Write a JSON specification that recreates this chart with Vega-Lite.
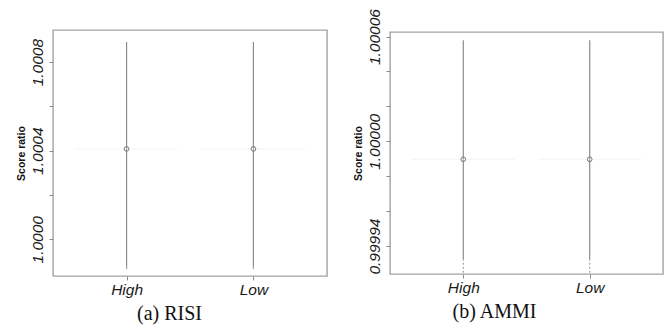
{
  "$schema": "https://vega.github.io/schema/vega-lite/v6.json",
  "background": "white",
  "padding": {"left": 15, "top": 7, "right": 3, "bottom": 2},
  "bounds": "flush",
  "center": true,
  "spacing": 63,
  "config": {
    "view": {"stroke": "#a3a3a3", "strokeWidth": 1.4},
    "axis": {
      "domain": false,
      "grid": false,
      "tickColor": "#8c8c8c",
      "tickSize": 4,
      "tickWidth": 1,
      "labelFont": "Liberation Sans",
      "labelFontStyle": "italic",
      "labelFontSize": 15.5,
      "labelColor": "#1a1a1a",
      "labelOverlap": false,
      "titleColor": "#111111"
    },
    "axisX": {
      "labelAngle": 0,
      "labelPadding": 2,
      "titleFont": "Liberation Serif",
      "titleFontSize": 20,
      "titleFontWeight": "normal",
      "titleAlign": "center",
      "titlePadding": 6
    },
    "axisY": {
      "labelAngle": -90,
      "labelAlign": "center",
      "labelBaseline": "bottom",
      "labelPadding": 4,
      "titleFont": "Liberation Sans",
      "titleFontSize": 10.5,
      "titleFontWeight": "bold",
      "titlePadding": 4
    }
  },
  "hconcat": [
    {
      "width": 274,
      "height": 246,
      "data": {"values": [
        {"g": "High", "top": 1.000891, "lo": 0.999874, "end": 0.999865, "med": 1.000408},
        {"g": "Low", "top": 1.000891, "lo": 0.999874, "end": 0.999865, "med": 1.000408}
      ]},
      "encoding": {
        "x": {"field": "g", "type": "nominal", "sort": ["High", "Low"],
              "scale": {"type": "point", "padding": 0.58},
              "axis": {"title": "(a) RISI", "titleX": 116}}
      },
      "layer": [
        {
          "mark": {"type": "rule", "color": "#8c8c8c", "strokeWidth": 1.2},
          "encoding": {
            "y": {"field": "lo", "type": "quantitative",
                  "scale": {"domain": [0.999834, 1.000945], "nice": false, "zero": false},
                  "axis": {"title": "Score ratio",
                           "values": [1.0, 1.0002, 1.0004, 1.0006, 1.0008],
                           "labelExpr": "(abs(datum.value - 1.0002) < 1e-9 || abs(datum.value - 1.0006) < 1e-9) ? '' : format(datum.value, '.4f')"}},
            "y2": {"field": "top"}
          }
        },
        {
          "mark": {"type": "rule", "color": "#a0a0a0", "strokeWidth": 1.2, "strokeDash": [2, 2]},
          "encoding": {
            "y": {"field": "end", "type": "quantitative"},
            "y2": {"field": "lo"}
          }
        },
        {
          "mark": {"type": "tick", "color": "#eeeeee", "size": 103, "thickness": 1},
          "encoding": {"y": {"field": "med", "type": "quantitative"}}
        },
        {
          "mark": {"type": "point", "shape": "circle", "filled": false, "size": 22, "color": "#7a7a7a", "strokeWidth": 1, "opacity": 1},
          "encoding": {"y": {"field": "med", "type": "quantitative"}}
        }
      ]
    },
    {
      "width": 273,
      "height": 242,
      "data": {"values": [
        {"g": "High", "top": 1.0000579, "lo": 0.9999324, "end": 0.9999247, "med": 0.9999897},
        {"g": "Low", "top": 1.0000579, "lo": 0.9999324, "end": 0.9999247, "med": 0.9999897}
      ]},
      "encoding": {
        "x": {"field": "g", "type": "nominal", "sort": ["High", "Low"],
              "scale": {"type": "point", "padding": 0.58},
              "axis": {"title": "(b) AMMI", "titleX": 104}}
      },
      "layer": [
        {
          "mark": {"type": "rule", "color": "#8c8c8c", "strokeWidth": 1.2},
          "encoding": {
            "y": {"field": "lo", "type": "quantitative",
                  "scale": {"domain": [0.999924, 1.0000626], "nice": false, "zero": false},
                  "axis": {"title": "Score ratio",
                           "values": [0.99994, 0.99996, 0.99998, 1.0, 1.00002, 1.00004, 1.00006],
                           "labelExpr": "(abs(datum.value - 1) < 1e-9 || abs(datum.value - 0.99994) < 1e-9 || abs(datum.value - 1.00006) < 1e-9) ? format(datum.value, '.5f') : ''"}},
            "y2": {"field": "top"}
          }
        },
        {
          "mark": {"type": "rule", "color": "#a0a0a0", "strokeWidth": 1.2, "strokeDash": [2, 2]},
          "encoding": {
            "y": {"field": "end", "type": "quantitative"},
            "y2": {"field": "lo"}
          }
        },
        {
          "mark": {"type": "tick", "color": "#eeeeee", "size": 103, "thickness": 1},
          "encoding": {"y": {"field": "med", "type": "quantitative"}}
        },
        {
          "mark": {"type": "point", "shape": "circle", "filled": false, "size": 22, "color": "#7a7a7a", "strokeWidth": 1, "opacity": 1},
          "encoding": {"y": {"field": "med", "type": "quantitative"}}
        }
      ]
    }
  ]
}
